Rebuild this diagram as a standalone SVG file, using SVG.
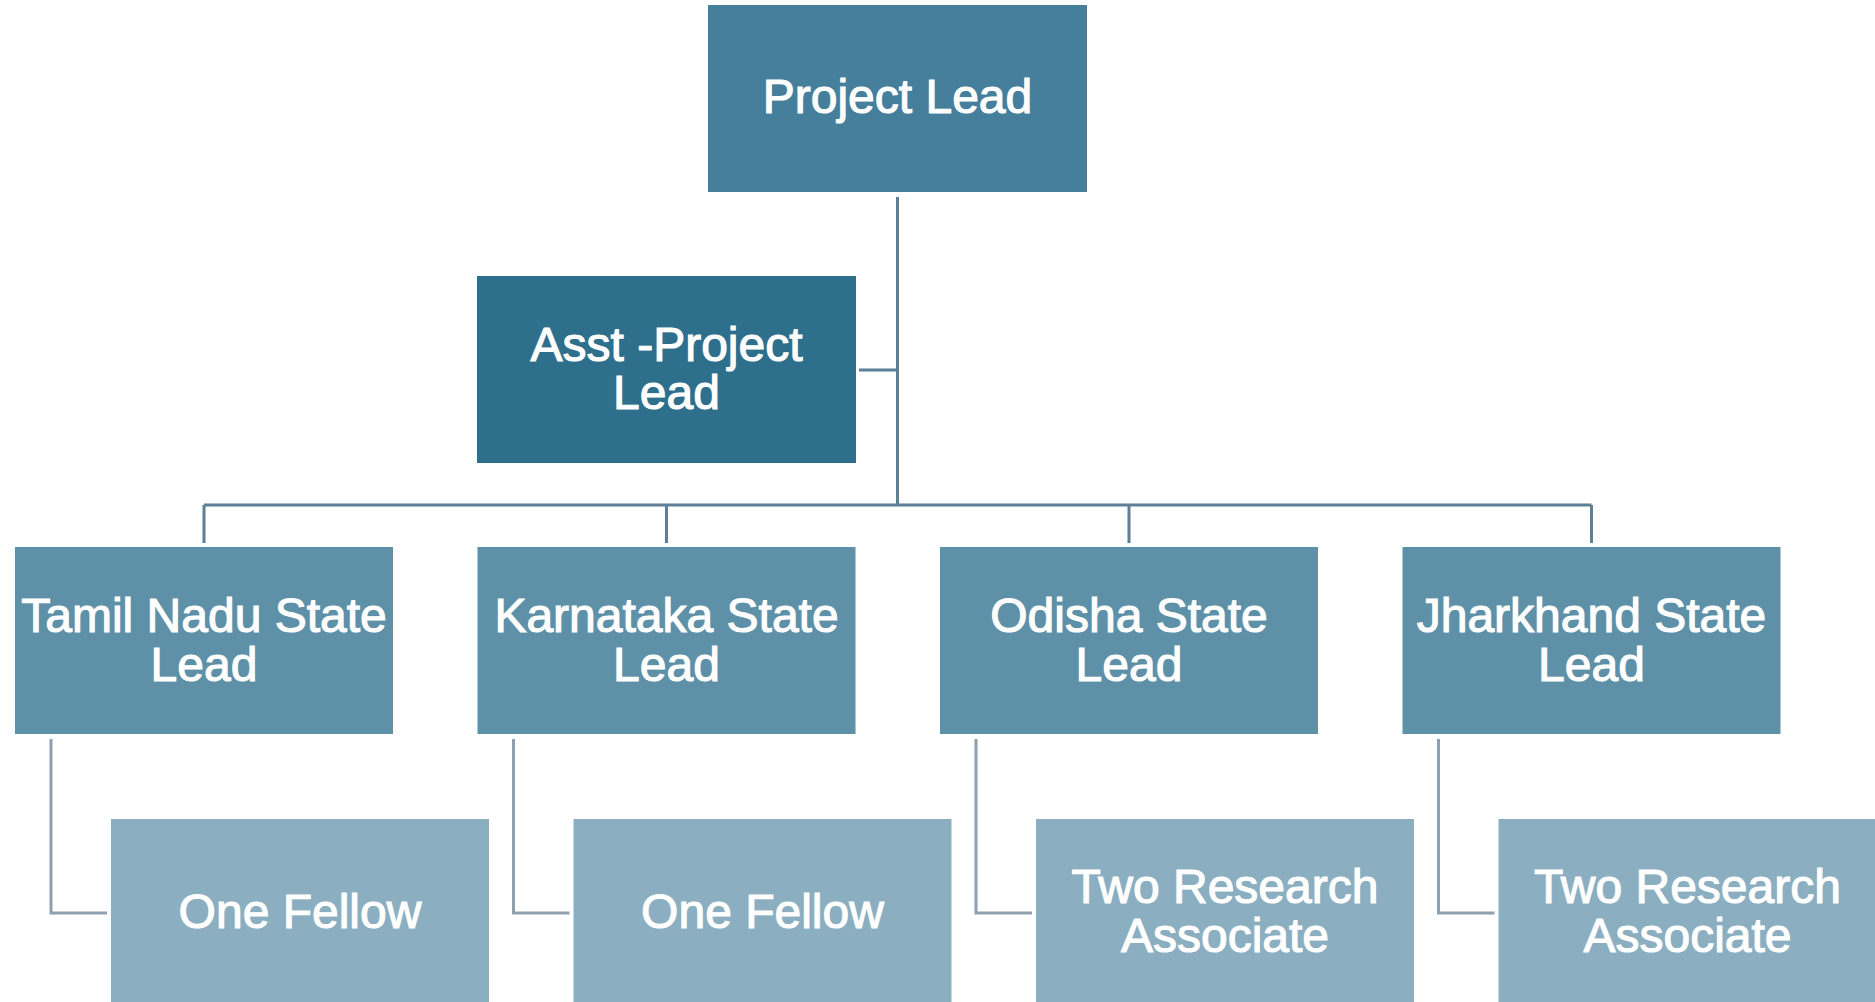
<svg xmlns="http://www.w3.org/2000/svg" width="1875" height="1002" viewBox="0 0 1875 1002">
<style>
  .t { font-family: "Liberation Sans", Arial, sans-serif; font-size: 48px; fill: #ffffff; stroke: #ffffff; stroke-width: 1.1; text-anchor: middle; }
  .top { fill: #467F9B; }
  .asst { fill: #2E708C; }
  .state { fill: #5E91A8; }
  .child { fill: #8BAFC1; }
  .c1 { stroke: #5D7F98; stroke-width: 3; fill: none; }
  .c2 { stroke: #8E9FAF; stroke-width: 3; fill: none; }
</style>
<rect width="1875" height="1002" fill="#ffffff"/>
<g id="connectors">
  <path class="c1" d="M897.5 197 V505 M859 370 H897.5 M204 505 H1591.5 M204 505 V543 M666.5 505 V543 M1129 505 V543 M1591.5 505 V543"/>
  <path class="c2" d="M51 739 V913 H107 M513.5 739 V913 H569.5 M976 739 V913 H1032 M1438.5 739 V913 H1494.5"/>
</g>
<g id="project-lead">
  <rect class="top" x="708" y="5" width="379" height="187"/>
  <text class="t" x="897.5" y="113">Project Lead</text>
</g>
<g id="asst-project-lead">
  <rect class="asst" x="477" y="276" width="379" height="187"/>
  <text class="t" x="666.5" y="361">Asst -Project</text>
  <text class="t" x="666.5" y="409">Lead</text>
</g>
<g id="tamil-nadu">
  <rect class="state" x="15" y="547" width="378" height="187"/>
  <text class="t" x="204" y="632">Tamil Nadu State</text>
  <text class="t" x="204" y="681">Lead</text>
</g>
<g id="karnataka">
  <rect class="state" x="477.5" y="547" width="378" height="187"/>
  <text class="t" x="666.5" y="632">Karnataka State</text>
  <text class="t" x="666.5" y="681">Lead</text>
</g>
<g id="odisha">
  <rect class="state" x="940" y="547" width="378" height="187"/>
  <text class="t" x="1129" y="632">Odisha State</text>
  <text class="t" x="1129" y="681">Lead</text>
</g>
<g id="jharkhand">
  <rect class="state" x="1402.5" y="547" width="378" height="187"/>
  <text class="t" x="1591.5" y="632">Jharkhand State</text>
  <text class="t" x="1591.5" y="681">Lead</text>
</g>
<g id="tn-fellow">
  <rect class="child" x="111" y="819" width="378" height="187"/>
  <text class="t" x="300" y="928">One Fellow</text>
</g>
<g id="ka-fellow">
  <rect class="child" x="573.5" y="819" width="378" height="187"/>
  <text class="t" x="762.5" y="928">One Fellow</text>
</g>
<g id="od-associate">
  <rect class="child" x="1036" y="819" width="378" height="187"/>
  <text class="t" x="1225" y="903">Two Research</text>
  <text class="t" x="1225" y="952">Associate</text>
</g>
<g id="jh-associate">
  <rect class="child" x="1498.5" y="819" width="378" height="187"/>
  <text class="t" x="1687.5" y="903">Two Research</text>
  <text class="t" x="1687.5" y="952">Associate</text>
</g>
</svg>
